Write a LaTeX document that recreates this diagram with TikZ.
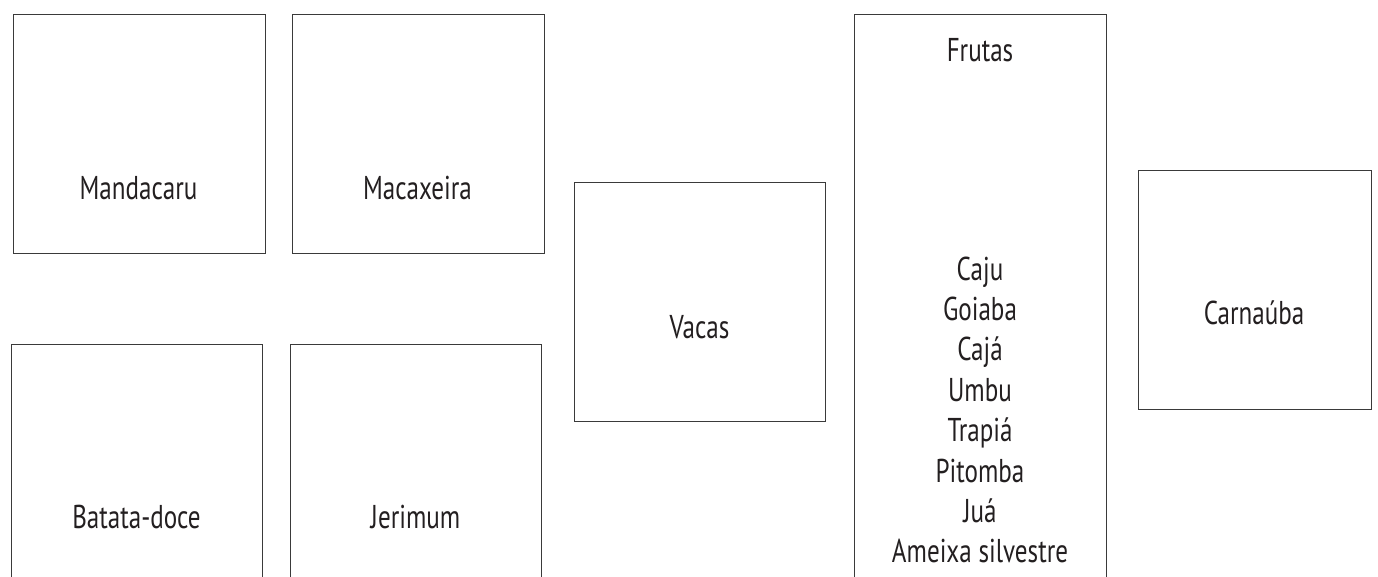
\documentclass[tikz,border=0pt]{standalone}
\usepackage{fontspec}
\setmainfont[FakeStretch=0.76]{PT Sans}
\definecolor{ink}{HTML}{231F20}
\definecolor{edge}{HTML}{3A3A3A}
\begin{document}
\begin{tikzpicture}[x=1pt,y=-1pt,
  box/.style={draw=edge,line width=1.3pt,rectangle,inner sep=0pt,anchor=north west},
  lbl/.style={text=ink,font=\fontsize{33}{40.4}\selectfont,inner sep=0pt,align=center}]
\useasboundingbox (0,0) rectangle (1378,576);
\clip (0,0) rectangle (1378,576);
\fill[white] (0,0) rectangle (1378,576);
% boxes
\node[box,minimum width=252,minimum height=239] (mandacaru) at (12.5,14) {};
\node[box,minimum width=252,minimum height=239] (macaxeira) at (291.5,14) {};
\node[box,minimum width=251,minimum height=250] (batata) at (11,344) {};
\node[box,minimum width=251,minimum height=250] (jerimum) at (290,344) {};
\node[box,minimum width=251,minimum height=238.5] (vacas) at (574,182) {};
\node[box,minimum width=251.5,minimum height=580] (frutas) at (854,14) {};
\node[box,minimum width=233,minimum height=239] (carnauba) at (1137.5,170) {};
% labels
\node[lbl] (tmandacaru) at (138.5,188) {Mandacaru};
\node[lbl] (tmacaxeira) at (417.5,188) {Macaxeira};
\node[lbl] (tbatata) at (136.5,517) {Batata-doce};
\node[lbl] (tjerimum) at (415.5,517) {Jerimum};
\node[lbl] (tvacas) at (699.5,327) {Vacas};
\node[lbl] (tfrutas) at (980,50) {Frutas};
\node[lbl] (tcarnauba) at (1254,313) {Carnaúba};
\node[lbl] (tlista) at (980,410) {Caju\\Goiaba\\Cajá\\Umbu\\Trapiá\\Pitomba\\Juá\\Ameixa silvestre};
\end{tikzpicture}
\end{document}
